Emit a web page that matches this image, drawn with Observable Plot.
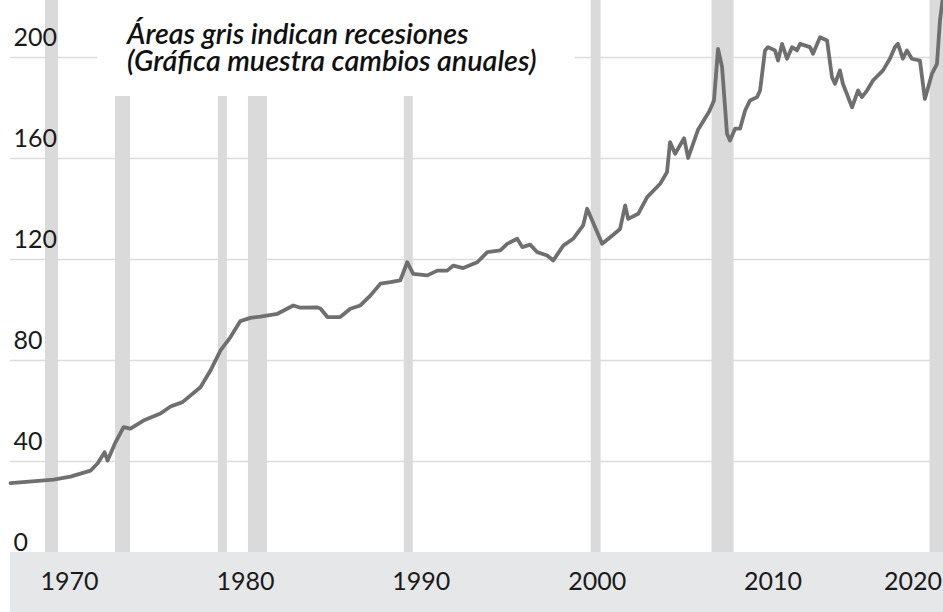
<!DOCTYPE html>
<html><head><meta charset="utf-8">
<script src="https://cdn.jsdelivr.net/npm/d3@7"></script>
<script src="https://cdn.jsdelivr.net/npm/@observablehq/plot@0.6"></script>
<style>
html,body{margin:0;padding:0;background:#fff;}
#wrap{position:relative;width:943px;height:612px;overflow:hidden;}
#wrap svg{position:absolute;left:0;top:0;}
#note{position:absolute;z-index:2;left:97px;top:0;width:478px;height:96px;background:#fff;font-family:Lato,"Open Sans",sans-serif;font-style:italic;font-weight:600;font-size:28.7px;line-height:27px;color:#111;box-sizing:border-box;padding:20px 0 0 30px;white-space:nowrap;}
</style></head><body>
<div id="wrap"><div id="note">Áreas gris indican recesiones<br>(Gráfica muestra cambios anuales)</div></div>
<script>
const years = [1967.95,1969.0,1970.4,1971.36,1972.5,1972.9,1973.3,1973.47,1973.92,1974.38,1974.77,1975.51,1976.48,1977.05,1977.73,1978.75,1979.32,1979.89,1980.45,1981.02,1981.59,1982.16,1983.13,1984.03,1984.43,1985.4,1985.57,1985.97,1986.7,1987.27,1987.84,1988.41,1988.98,1989.55,1990.11,1990.51,1990.85,1991.65,1992.22,1992.78,1993.13,1993.69,1994.49,1995.06,1995.8,1996.19,1996.76,1997.05,1997.5,1997.9,1998.47,1998.81,1999.38,1999.94,2000.51,2000.74,2001.59,2002.05,2002.61,2002.9,2003.07,2003.64,2004.15,2004.89,2005.28,2005.45,2005.74,2006.25,2006.48,2007.05,2007.67,2007.95,2008.18,2008.41,2008.69,2008.86,2009.15,2009.43,2009.72,2010.0,2010.4,2010.57,2010.85,2011.02,2011.42,2011.59,2011.82,2012.1,2012.39,2012.67,2012.84,2013.41,2013.58,2013.98,2014.38,2014.66,2014.83,2015.11,2015.28,2015.8,2016.14,2016.36,2016.65,2016.99,2017.56,2017.95,2018.24,2018.41,2018.69,2018.92,2019.2,2019.66,2019.94,2020.34,2020.63,2020.8,2020.97];
const values = [31.4,32.0,32.8,34.0,36.4,39.2,43.7,40.4,47.6,53.6,53.0,56.2,59.0,61.8,63.5,69.4,76.0,84.0,89.2,95.6,96.9,97.4,98.5,101.8,100.9,101.0,100.6,97.2,97.2,100.5,101.8,105.7,110.4,111.0,111.7,118.9,114.3,113.7,115.6,115.6,117.6,116.6,118.9,122.9,123.6,126.2,128.2,124.9,125.9,122.9,121.6,119.6,125.5,128.2,133.5,140.1,126.2,128.8,132.1,141.4,136.1,138.1,144.7,150.0,154.6,166.5,161.9,168.0,160.2,171.5,178.5,183.0,203.4,196.2,169.8,167.1,171.8,171.8,179.0,183.0,184.3,186.9,202.8,204.1,202.8,198.8,205.4,199.5,204.1,202.8,205.4,204.1,201.5,208.0,206.7,192.2,189.6,194.9,189.6,180.3,186.9,184.3,186.9,190.9,194.9,199.5,204.1,205.4,199.5,202.8,199.5,198.8,183.6,193.5,197.5,214.7,224.0];
const recessionStart = [1969.94,1973.92,1979.77,1981.48,1990.34,2000.97,2007.84,2020.23];
const recessionEnd   = [1970.68,1974.77,1980.28,1982.56,1990.85,2001.53,2009.09,2021.0];
const yTicks = [0,40,80,120,160,200];
const xTicks = [1970,1980,1990,2000,2010];
const xTickLast = [2020];

const series = years.map((t,i)=>({t, v: values[i]}));
const recessions = recessionStart.map((s,i)=>({s, e: recessionEnd[i]}));

const chart = Plot.plot({
  width: 943, height: 612,
  marginTop: 0, marginBottom: 60, marginLeft: 10, marginRight: 0,
  style: {background: "linear-gradient(#e6e7e9,#e6e7e9) 10px 552px / 933px 60px no-repeat, #fff", fontFamily: "Lato, 'Open Sans', sans-serif", color: "#1a1a1a", overflow: "visible"},
  x: {domain: [1967.95, 2021.0]},
  y: {domain: [0, 222.57], range: [562, 0]},
  marks: [
    Plot.gridY(yTicks.filter(d => d > 0), {stroke: "#dcdcdc", strokeOpacity: 1, strokeWidth: 1.5}),
    Plot.rect(recessions, {x1: "s", x2: "e", fill: "#dadada"}),
    Plot.line(series, {x: "t", y: "v", stroke: "#6f6f6f", strokeWidth: 3.8, strokeLinejoin: "round"}),
    Plot.axisY(yTicks, {anchor: "left", tickSize: 0, tickPadding: 0, textAnchor: "start", dx: 3, dy: -19.5, fontSize: 25, fill: "#1a1a1a", label: null}),
    Plot.axisX(xTicks, {anchor: "bottom", tickSize: 0, tickPadding: 0, dy: 20, dx: 23, fontSize: 25, fill: "#1a1a1a", label: null, tickFormat: d => String(d)}),
    Plot.axisX(xTickLast, {anchor: "bottom", tickSize: 0, tickPadding: 0, dy: 20, dx: -13, fontSize: 25, fill: "#1a1a1a", label: null, tickFormat: d => String(d)})
  ]
});
document.getElementById("wrap").prepend(chart);
</script>
</body></html>
